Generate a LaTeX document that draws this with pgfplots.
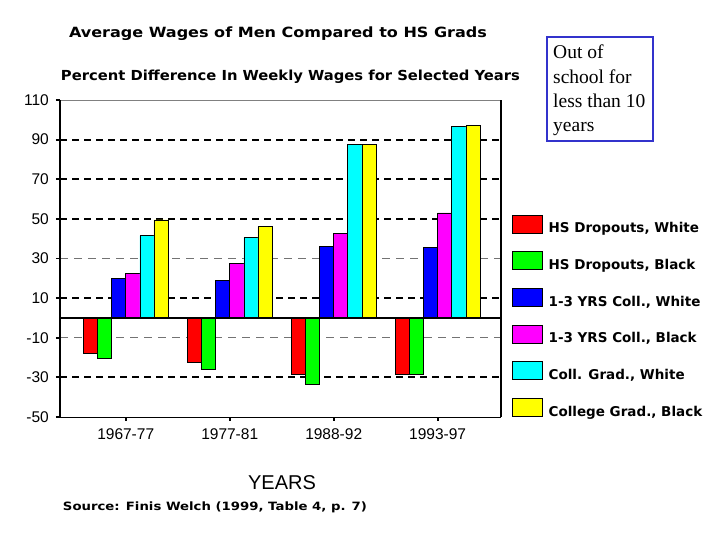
\documentclass[border=0pt]{standalone}
\usepackage{graphicx}
\usepackage{fontspec}
\setmainfont{Liberation Sans}
\newfontfamily\heavyfont{DejaVu Sans}
\newfontfamily\timesfont{Liberation Serif}
\usepackage{pgfplots}
\pgfplotsset{compat=1.18}
\usepackage{pgfplotstable}
\definecolor{boxblue}{RGB}{51,51,204}
\definecolor{cRed}{RGB}{255,0,0}
\definecolor{cGreen}{RGB}{0,255,0}
\definecolor{cBlue}{RGB}{0,0,255}
\definecolor{cMagenta}{RGB}{255,0,255}
\definecolor{cCyan}{RGB}{0,255,255}
\definecolor{cYellow}{RGB}{255,255,0}

\pgfplotstableread{
x HSDW HSDB CW CB CGW CGB
0 -18 -20.5 20 22.5 41.5 49.5
1 -22.5 -26 19 27.5 40.5 46
2 -28.5 -33.5 36 42.5 87.5 87.5
3 -28.5 -28.5 35.5 53 96.5 97
}\wages

\begin{document}
\begin{tikzpicture}[x=1pt,y=1pt]
\useasboundingbox (0,0) rectangle (720,540);
\fill[white] (0,0) rectangle (720,540);
\node[anchor=base, inner sep=0pt] at (278,502.7) {\resizebox{418pt}{10.7pt}{\heavyfont\bfseries Average Wages of Men Compared to HS Grads}};
\node[anchor=base, inner sep=0pt] at (290.5,459.2) {\resizebox{459pt}{10.5pt}{\heavyfont\bfseries Percent Difference In Weekly Wages for Selected Years}};
\node[anchor=base, inner sep=0pt] at (215,29) {\resizebox{304pt}{8.7pt}{\heavyfont\bfseries Source: Finis Welch (1999, Table 4, p. 7)}};
\node[anchor=base, inner sep=0pt, font=\fontsize{20}{24}\selectfont] at (282,50) {YEARS};
\draw[boxblue, line width=2.5pt] (547,399) rectangle (653,503);
\node[anchor=north west, align=left, inner sep=0pt, font=\timesfont\fontsize{19.5}{24.3}\selectfont] at (553,495) {Out of\\school for\\less than 10\\years};
\begin{axis}[
  at={(60pt,123pt)}, anchor=south west,
  width=441pt, height=317pt, scale only axis,
  clip=false,
  xmin=-0.632, xmax=3.609, ymin=-50, ymax=110,
  ybar=0pt, bar width=14.1pt,
  xtick={0,1,2,3}, xticklabels={1967-77,1977-81,1988-92,1993-97},
  ytick={-50,-30,-10,10,30,50,70,90,110},
  tick pos=left, tick align=outside, major tick length=4pt,
  tick style={black, line width=1.8pt},
  axis line style={draw=none},
  ticklabel style={font=\fontsize{15.5}{18}\selectfont},
  /pgf/number format/assume math mode=true,
  xticklabel style={anchor=north, inner sep=0pt, yshift=-7pt},
  yticklabel style={anchor=east, inner sep=0pt, xshift=-7pt},
  legend style={at={(rel axis cs:1.025,0.638)}, anchor=north west, draw=none, fill=none,
    inner sep=0pt, outer sep=0pt, row sep=17pt, column sep=6pt,
    font=\heavyfont\bfseries\fontsize{13.5}{16}\selectfont,
    nodes={inner sep=0pt}},
  legend cell align=left,
  legend image code/.code={\draw[#1, draw=black, line width=0.6pt] (0pt,-4.5pt) rectangle (30pt,13.5pt);},
]
\draw[black!55, line width=0.8pt, dash pattern=on 8pt off 6pt] (axis cs:-0.632,30) -- (axis cs:3.609,30);
\draw[black!55, line width=0.8pt, dash pattern=on 8pt off 6pt] (axis cs:-0.632,-10) -- (axis cs:3.609,-10);
\draw[black, line width=1.8pt, dash pattern=on 7pt off 5pt] (axis cs:-0.632,90) -- (axis cs:3.609,90);
\draw[black, line width=1.8pt, dash pattern=on 7pt off 5pt] (axis cs:-0.632,70) -- (axis cs:3.609,70);
\draw[black, line width=1.8pt, dash pattern=on 7pt off 5pt] (axis cs:-0.632,50) -- (axis cs:3.609,50);
\draw[black, line width=1.8pt, dash pattern=on 7pt off 5pt] (axis cs:-0.632,10) -- (axis cs:3.609,10);
\draw[black, line width=1.8pt, dash pattern=on 7pt off 5pt] (axis cs:-0.632,-30) -- (axis cs:3.609,-30);
\addplot[fill=cRed, draw=black, line width=0.6pt] table[x=x,y=HSDW]{\wages};
\addlegendentry{HS Dropouts, White}
\addplot[fill=cGreen, draw=black, line width=0.6pt] table[x=x,y=HSDB]{\wages};
\addlegendentry{HS Dropouts, Black}
\addplot[fill=cBlue, draw=black, line width=0.6pt] table[x=x,y=CW]{\wages};
\addlegendentry{1-3 YRS Coll., White}
\addplot[fill=cMagenta, draw=black, line width=0.6pt] table[x=x,y=CB]{\wages};
\addlegendentry{1-3 YRS Coll., Black}
\addplot[fill=cCyan, draw=black, line width=0.6pt] table[x=x,y=CGW]{\wages};
\addlegendentry{Coll. Grad., White}
\addplot[fill=cYellow, draw=black, line width=0.6pt] table[x=x,y=CGB]{\wages};
\addlegendentry{College Grad., Black}
\draw[black, line width=1.8pt] (axis cs:-0.632,0) -- (axis cs:3.609,0);
\draw[black!50, line width=0.8pt] (axis cs:-0.632,110) -- (axis cs:3.609,110);
\draw[black, line width=0.8pt] (axis cs:-0.632,-50) -- (axis cs:3.609,-50);
\draw[black, line width=1.6pt] (axis cs:-0.632,-50) -- (axis cs:-0.632,110);
\draw[black, line width=1.6pt] (axis cs:3.609,-50) -- (axis cs:3.609,110);
\end{axis}
\end{tikzpicture}
\end{document}
